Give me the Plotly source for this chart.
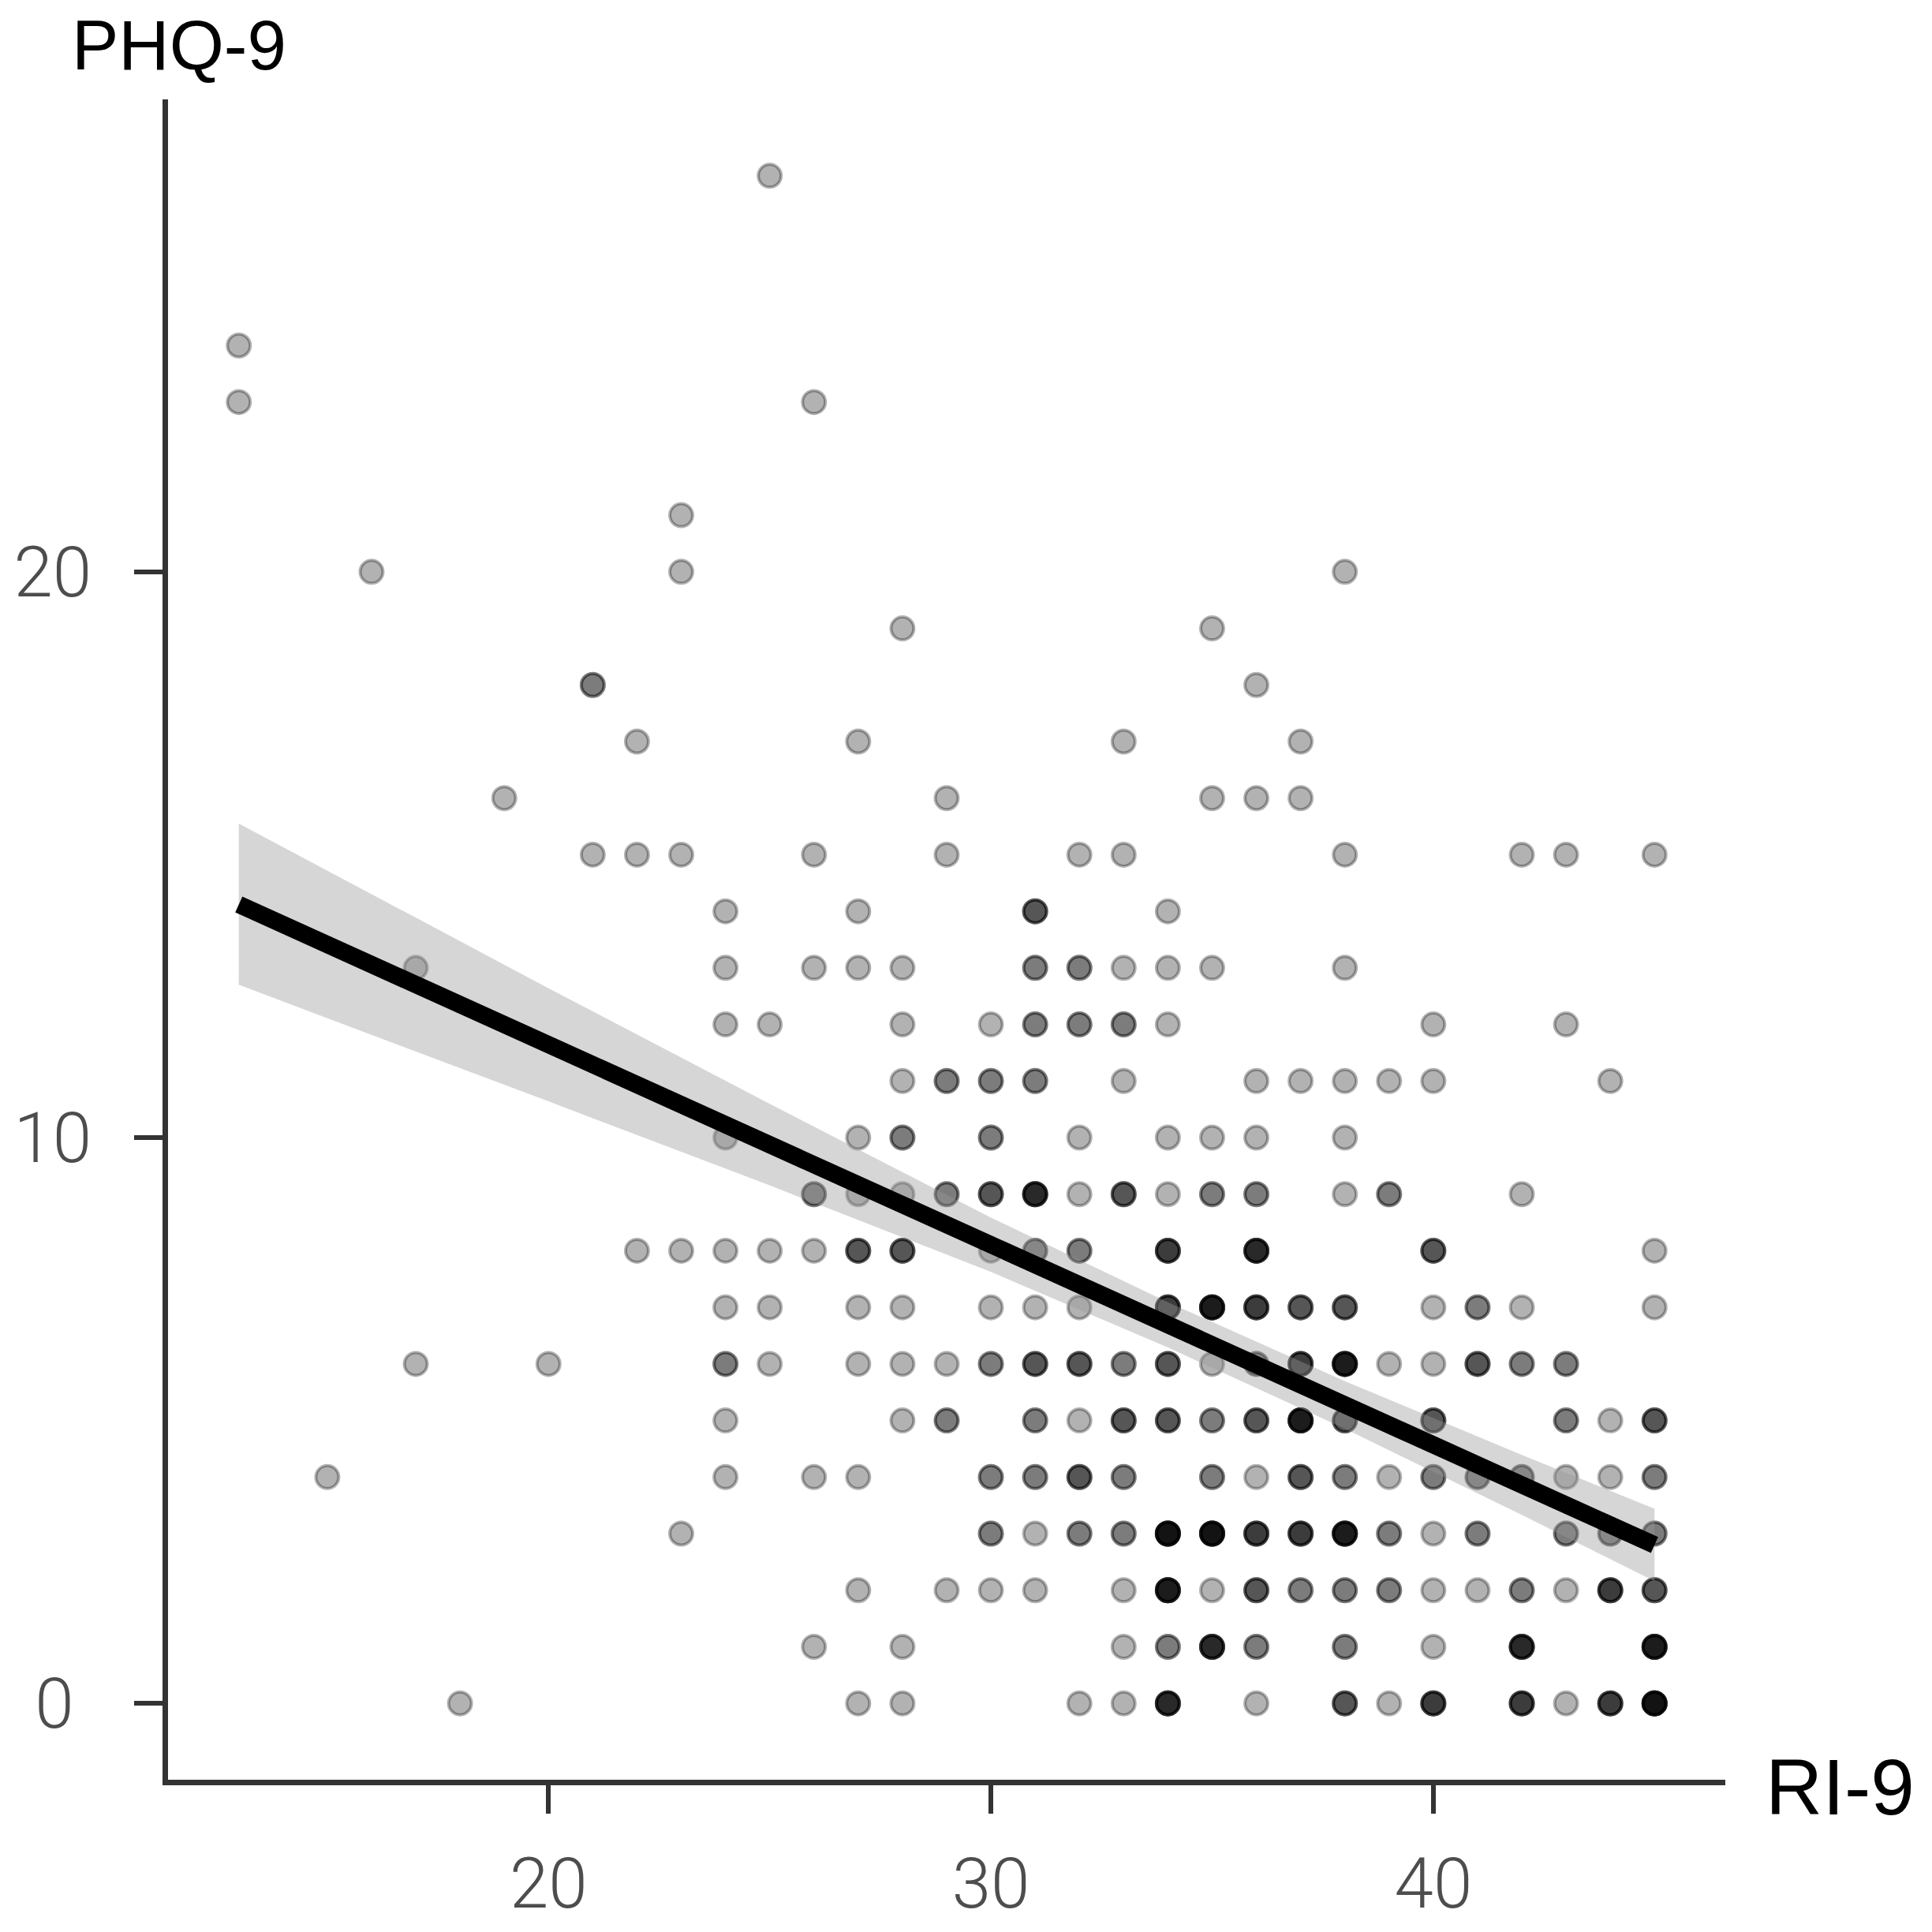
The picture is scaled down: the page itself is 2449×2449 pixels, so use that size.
import numpy as np
import plotly.graph_objects as go

rows = {
    27: ([25], [1]),
    24: ([13], [1]),
    23: ([13, 26], [1, 1]),
    21: ([23], [1]),
    20: ([16, 23, 38], [1, 1, 1]),
    19: ([28, 35], [1, 1]),
    18: ([21, 36], [2, 1]),
    17: ([22, 27, 33, 37], [1, 1, 1, 1]),
    16: ([19, 29, 35, 36, 37], [1, 1, 1, 1, 1]),
    15: ([21, 22, 23, 26, 29, 32, 33, 38, 42, 43, 45], [1] * 11),
    14: ([24, 27, 31, 34], [1, 1, 3, 1]),
    13: ([17, 24, 26, 27, 28, 31, 32, 33, 34, 35, 38], [1, 1, 1, 1, 1, 2, 2, 1, 1, 1, 1]),
    12: ([24, 25, 28, 30, 31, 32, 33, 34, 40, 43], [1, 1, 1, 1, 2, 2, 2, 1, 1, 1]),
    11: ([28, 29, 30, 31, 33, 36, 37, 38, 39, 40, 44], [1, 2, 2, 2, 1, 1, 1, 1, 1, 1, 1]),
    10: ([24, 27, 28, 30, 32, 34, 35, 36, 38], [1, 1, 2, 2, 1, 1, 1, 1, 1]),
    9: ([26, 27, 28, 29, 30, 31, 32, 33, 34, 35, 36, 38, 39, 42],
        [2, 1, 1, 2, 3, 5, 1, 3, 1, 2, 2, 1, 2, 1]),
    8: ([22, 23, 24, 25, 26, 27, 28, 30, 31, 32, 34, 36, 40, 45],
        [1, 1, 1, 1, 1, 3, 3, 1, 2, 2, 4, 5, 3, 1]),
    7: ([24, 25, 27, 28, 30, 31, 32, 34, 35, 36, 37, 38, 40, 41, 42, 45],
        [1, 1, 1, 1, 1, 1, 1, 4, 6, 4, 3, 3, 1, 2, 1, 1]),
    6: ([17, 20, 24, 25, 27, 28, 29, 30, 31, 32, 33, 34, 35, 36, 37, 38, 39, 40, 41, 42, 43],
        [1, 1, 2, 1, 1, 1, 1, 2, 3, 3, 2, 3, 1, 2, 4, 6, 1, 1, 3, 2, 2]),
    5: ([24, 28, 29, 31, 32, 33, 34, 35, 36, 37, 38, 40, 43, 44, 45],
        [1, 1, 2, 2, 1, 3, 3, 2, 3, 6, 3, 3, 2, 1, 3]),
    4: ([15, 24, 26, 27, 30, 31, 32, 33, 35, 36, 37, 38, 39, 40, 41, 42, 43, 44, 45],
        [1, 1, 1, 1, 2, 2, 3, 2, 2, 1, 3, 2, 1, 2, 2, 2, 1, 1, 2]),
    3: ([23, 30, 31, 32, 33, 34, 35, 36, 37, 38, 39, 40, 41, 43, 44, 45],
        [1, 2, 1, 2, 2, 7, 7, 4, 4, 6, 2, 1, 2, 2, 2, 2]),
    2: ([27, 29, 30, 31, 33, 34, 35, 36, 37, 38, 39, 40, 41, 42, 43, 44, 45],
        [1, 1, 1, 1, 1, 6, 1, 3, 2, 2, 2, 1, 1, 2, 1, 4, 3]),
    1: ([26, 28, 33, 34, 35, 36, 38, 40, 42, 45], [1, 1, 1, 2, 5, 2, 2, 1, 5, 6]),
    0: ([18, 27, 28, 32, 33, 34, 36, 38, 39, 40, 42, 43, 44, 45],
        [1, 1, 1, 1, 1, 5, 1, 3, 1, 4, 4, 1, 4, 7]),
}

# regression line and its confidence band
fit_x = [13, 45]
fit_y = [14.12, 2.80]
band_x = [13, 20, 25, 30, 34, 38, 42, 45]
band_lo = [12.70, 10.64, 9.155, 7.626, 6.291, 4.856, 3.331, 2.16]
band_hi = [15.55, 12.64, 10.595, 8.586, 7.091, 5.696, 4.391, 3.44]

x_ticks = [20, 30, 40]
y_ticks = [0, 10, 20]
# labels on the y axis are centred in the reference; a quarter-em space centres the "0"
y_tick_text = ["0\u2005", "10", "20"]

# ---- expand to individual observations
px, py = [], []
for yv, (xs, ns) in rows.items():
    for xv, n in zip(xs, ns):
        px += [xv] * n
        py += [yv] * n

fig = go.Figure()
fig.add_trace(go.Scatter(
    x=px, y=py, mode="markers",
    marker=dict(size=29, color="rgba(0,0,0,0.3)",
                line=dict(color="rgba(0,0,0,0.3)", width=4)),
    hoverinfo="skip", showlegend=False))

fig.add_trace(go.Scatter(
    x=band_x + band_x[::-1], y=band_hi + band_lo[::-1],
    mode="lines", fill="toself", fillcolor="rgba(153,153,153,0.4)",
    line=dict(width=0), hoverinfo="skip", showlegend=False))

fig.add_trace(go.Scatter(
    x=fit_x, y=fit_y, mode="lines",
    line=dict(color="black", width=22),
    hoverinfo="skip", showlegend=False))

tickfont = dict(family="Roboto", size=89, color="#4D4D4D", weight=300)
fig.update_layout(
    width=2449, height=2449,
    margin=dict(l=205, r=270, t=118, b=201),
    paper_bgcolor="white", plot_bgcolor="white",
    xaxis=dict(range=[11.4, 46.6], tickvals=x_ticks, ticks="outside",
               ticklen=36, tickwidth=6, tickcolor="#333333",
               showline=True, linecolor="#333333", linewidth=7,
               showgrid=False, zeroline=False, tickfont=tickfont,
               ticklabelstandoff=12, automargin=False),
    yaxis=dict(range=[-1.35, 28.35], tickvals=y_ticks, ticktext=y_tick_text,
               ticks="outside",
               ticklen=36, tickwidth=6, tickcolor="#333333",
               showline=True, linecolor="#333333", linewidth=7,
               showgrid=False, zeroline=False, tickfont=tickfont,
               ticklabelstandoff=36, automargin=False),
    annotations=[
        dict(text="PHQ-9", xref="paper", yref="paper", x=-0.0630, y=1.0326,
             xanchor="left", yanchor="middle", showarrow=False,
             font=dict(family="Liberation Sans", size=89, color="black")),
        dict(text="RI-9", xref="paper", yref="paper", x=1.0250, y=-0.0040,
             xanchor="left", yanchor="middle", showarrow=False,
             font=dict(family="Liberation Sans", size=100, color="black")),
    ],
)

fig.write_html("out.html")
